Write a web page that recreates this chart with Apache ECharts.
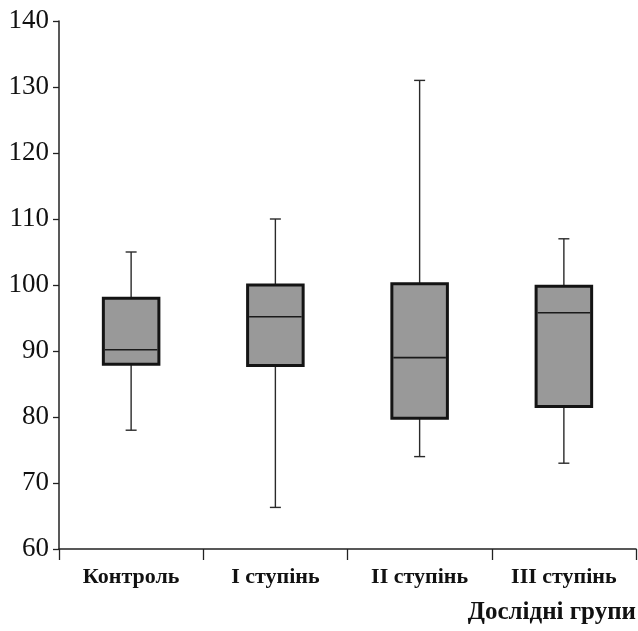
<!DOCTYPE html>
<html>
<head>
<meta charset="utf-8">
<script src="https://cdn.jsdelivr.net/npm/echarts@6/dist/echarts.min.js"></script>
<style>
  html, body { margin: 0; padding: 0; background: #fff; }
  #chart { width: 638px; height: 631px; }
</style>
</head>
<body>
<div id="chart"></div>
<script>
// Groups and five-number summaries (min, Q1, median, Q3, max)
const categories = ['Контроль', 'I ступінь', 'II ступінь', 'III ступінь'];
const whiskerLow = [78, 66.3, 74, 73];
const q1 = [88, 87.8, 79.8, 81.6];
const median = [90.2, 95.2, 89, 95.8];
const q3 = [98, 100, 100.2, 99.8];
const whiskerHigh = [105, 110, 131, 107];
const yTicks = { min: 60, max: 140, step: 10 };
const xAxisTitle = 'Дослідні групи';

const serif = '"Liberation Serif", "Times New Roman", Times, serif';

const boxData = categories.map((c, i) => [i, whiskerLow[i], q1[i], median[i], q3[i], whiskerHigh[i]]);

function renderBox(params, api) {
  const idx = api.value(0);
  const pLow = api.coord([idx, api.value(1)]);
  const pQ1 = api.coord([idx, api.value(2)]);
  const pMed = api.coord([idx, api.value(3)]);
  const pQ3 = api.coord([idx, api.value(4)]);
  const pHigh = api.coord([idx, api.value(5)]);
  const band = api.size([1, 0])[0];
  const w = band * 0.385;
  const cap = 11;
  const x = pMed[0];
  const whiskerStyle = { stroke: '#2a2a2a', lineWidth: 1.4 };
  return {
    type: 'group',
    children: [
      { type: 'line', shape: { x1: x, y1: pHigh[1], x2: x, y2: pQ3[1] }, style: whiskerStyle },
      { type: 'line', shape: { x1: x, y1: pQ1[1], x2: x, y2: pLow[1] }, style: whiskerStyle },
      { type: 'line', shape: { x1: x - cap / 2, y1: pHigh[1], x2: x + cap / 2, y2: pHigh[1] }, style: whiskerStyle },
      { type: 'line', shape: { x1: x - cap / 2, y1: pLow[1], x2: x + cap / 2, y2: pLow[1] }, style: whiskerStyle },
      { type: 'rect', shape: { x: x - w / 2, y: pQ3[1], width: w, height: pQ1[1] - pQ3[1] },
        style: { fill: '#999999', stroke: '#141414', lineWidth: 3 } },
      { type: 'line', shape: { x1: x - w / 2 + 1.5, y1: pMed[1], x2: x + w / 2 - 1.5, y2: pMed[1] },
        style: { stroke: '#1a1a1a', lineWidth: 1.6 } }
    ]
  };
}

const chart = echarts.init(document.getElementById('chart'), null, { renderer: 'canvas' });
chart.setOption({
  backgroundColor: '#ffffff',
  animation: false,
  grid: { left: 59, right: 2, top: 21, bottom: 82, containLabel: false },
  xAxis: {
    type: 'category',
    data: categories,
    boundaryGap: true,
    axisLine: { lineStyle: { color: '#222', width: 1.5 } },
    axisTick: { show: true, length: 11, alignWithLabel: false, lineStyle: { color: '#222', width: 1.3 } },
    axisLabel: {
      margin: 17,
      fontFamily: serif,
      fontWeight: 'bold',
      fontSize: 22,
      color: '#111'
    },
    splitLine: { show: false }
  },
  yAxis: {
    type: 'value',
    min: yTicks.min,
    max: yTicks.max,
    interval: yTicks.step,
    axisLine: { show: true, lineStyle: { color: '#222', width: 1.5 } },
    axisTick: { show: true, length: 6, lineStyle: { color: '#222', width: 1.3 } },
    axisLabel: {
      margin: 10,
      fontFamily: serif,
      fontSize: 27,
      color: '#111'
    },
    splitLine: { show: false }
  },
  graphic: [{
    type: 'text',
    right: 2,
    top: 600,
    style: {
      text: xAxisTitle,
      fontFamily: serif,
      fontWeight: 'bold',
      fontSize: 25,
      fill: '#111'
    }
  }],
  series: [{
    type: 'custom',
    renderItem: renderBox,
    encode: { x: 0, y: [1, 2, 3, 4, 5] },
    data: boxData,
    clip: false
  }]
});
</script>
</body>
</html>
